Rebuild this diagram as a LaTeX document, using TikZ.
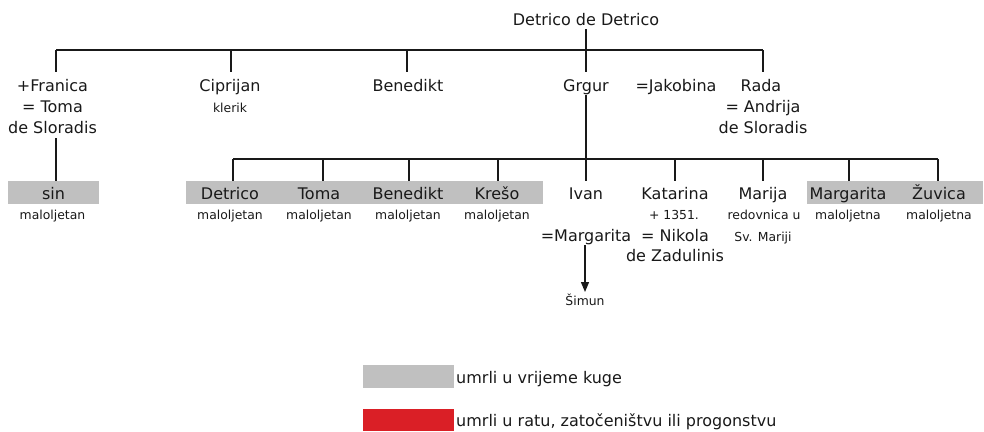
\documentclass[tikz,border=0pt]{standalone}
\usepackage{fontspec}
\setmainfont{DejaVu Sans}
\usetikzlibrary{arrows.meta}
\definecolor{plague}{RGB}{192,192,192}
\definecolor{war}{RGB}{218,31,38}
\definecolor{ink}{RGB}{25,25,25}
\tikzset{
  big/.style={anchor=base, inner sep=0pt, font=\fontsize{16bp}{19bp}\selectfont, text=ink},
  small/.style={anchor=base, inner sep=0pt, font=\fontsize{12.4bp}{14bp}\selectfont, text=ink},
  bar/.style={line width=1.9bp, draw=ink},
  link/.style={line width=1.3bp, draw=ink},
  plaguebox/.style={fill=plague, draw=none},
  warbox/.style={fill=war, draw=none},
  descent/.style={line width=1.3bp, draw=ink, -{Triangle[length=10bp,width=8bp]}},
}
\begin{document}
\begin{tikzpicture}[x=1bp,y=-1bp]
\useasboundingbox (0,0) rectangle (984,431);
% shaded boxes
\path[plaguebox] (8,181) rectangle (99,204);
\path[plaguebox] (186,181) rectangle (543,204);
\path[plaguebox] (807,181) rectangle (983,204);
\path[plaguebox] (363,365) rectangle (454,388);
\path[warbox] (363,409) rectangle (454,431);

% root
\node[big] (root) at (586,25) {Detrico de Detrico};

% generation 1
\node[big] (franica) at (52.5,91) {+Franica};
\node[big] (franica2) at (52.5,112) {= Toma};
\node[big] (franica3) at (52.5,133) {de Sloradis};
\node[big] (ciprijan) at (230,91) {Ciprijan};
\node[small] (ciprijanN) at (230,112) {klerik};
\node[big] (benedikt) at (408,91) {Benedikt};
\node[big] (grgur) at (586,91) {Grgur};
\node[big] (jakobina) at (676,91) {=Jakobina};
\node[big] (rada) at (761,91) {Rada};
\node[big] (rada2) at (763,112) {= Andrija};
\node[big] (rada3) at (763,133) {de Sloradis};

% generation 2
\node[big] (sin) at (53.5,199) {sin};
\node[small] (sinN) at (52.5,219) {maloljetan};
\node[big] (detrico) at (230,199) {Detrico};
\node[small] (detricoN) at (230,219) {maloljetan};
\node[big] (toma) at (319,199) {Toma};
\node[small] (tomaN) at (319,219) {maloljetan};
\node[big] (benedikt2) at (408,199) {Benedikt};
\node[small] (benedikt2N) at (408,219) {maloljetan};
\node[big] (kreso) at (497,199) {Krešo};
\node[small] (kresoN) at (497,219) {maloljetan};
\node[big] (ivan) at (586,199) {Ivan};
\node[big] (ivanS) at (586,241) {=Margarita};
\node[big] (katarina) at (675,199) {Katarina};
\node[small] (katarinaN) at (674,219) {+ 1351.};
\node[big] (katarinaS) at (675,241) {= Nikola};
\node[big] (katarinaS2) at (675,261) {de Zadulinis};
\node[big] (marija) at (763,199) {Marija};
\node[small] (marijaN) at (764,219) {redovnica u};
\node[small] (marijaN2) at (763,241) {Sv. Mariji};
\node[big] (margarita) at (848,199) {Margarita};
\node[small] (margaritaN) at (848,219) {maloljetna};
\node[big] (zuvica) at (939,199) {Žuvica};
\node[small] (zuvicaN) at (939,219) {maloljetna};

% generation 3
\node[small] (simun) at (585,305) {Šimun};

% legend
\node[big, anchor=base west] (legplague) at (456,383) {umrli u vrijeme kuge};
\node[big, anchor=base west] (legwar) at (456,426) {umrli u ratu, zatočeništvu ili progonstvu};

% connector coordinates
\coordinate (rootS) at (586,29);
\coordinate (barA) at (56,50);
\coordinate (barB) at (763,50);
\coordinate (barG) at (586,50);
\coordinate (cA) at (56,72);
\coordinate (cCb) at (231,50);
\coordinate (cC) at (231,72);
\coordinate (cBb) at (407,50);
\coordinate (cB) at (407,72);
\coordinate (cG) at (586,72);
\coordinate (cR) at (763,72);
\coordinate (franicaS) at (56,138);
\coordinate (sinN0) at (56,181);
\coordinate (grgurS) at (586,95);
\coordinate (ivanTop) at (586,181);
\coordinate (bar2A) at (233,159);
\coordinate (bar2B) at (938,159);
\coordinate (ivanArrowTop) at (585,245);
\coordinate (simunTop) at (585,292);

% generation 1 connectors
\draw[link] (rootS) -- (barG);
\draw[bar] (barA) -- (barB);
\draw[link] (barA) -- (cA);
\draw[link] (cCb) -- (cC);
\draw[link] (cBb) -- (cB);
\draw[link] (barG) -- (cG);
\draw[link] (barB) -- (cR);
\draw[link] (franicaS) -- (sinN0);

% generation 2 connectors
\draw[link] (grgurS) -- (ivanTop);
\draw[link] (bar2A) -- (bar2B);
\foreach \xx/\nm in {233/d,323/t,409/b,498/k,675/ka,763/ma,849/mg,938/z}{
  \coordinate (top\nm) at (\xx,159);
  \coordinate (bot\nm) at (\xx,181);
  \draw[link] (top\nm) -- (bot\nm);
}
\draw[descent] (ivanArrowTop) -- (simunTop);
\end{tikzpicture}
\end{document}
